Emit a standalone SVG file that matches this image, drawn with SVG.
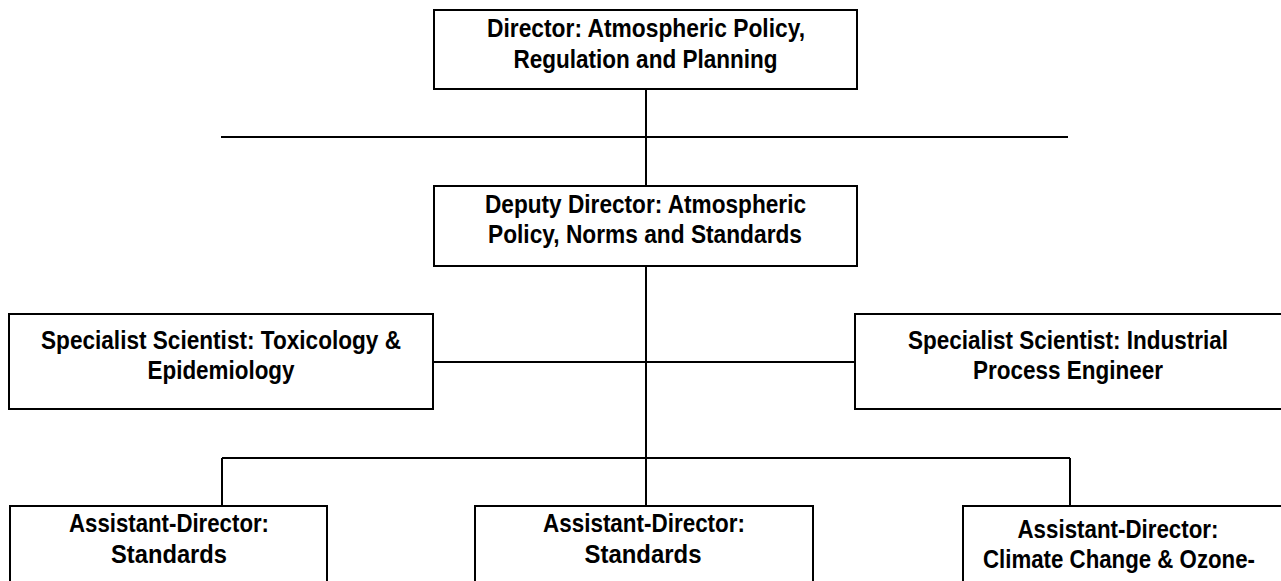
<svg xmlns="http://www.w3.org/2000/svg" width="1281" height="581" viewBox="0 0 1281 581">
<style>
.box{fill:#fff;stroke:#000;stroke-width:2}
.ln{stroke:#000;stroke-width:2;fill:none}
text{font-family:"Liberation Sans Narrow","Arial Narrow","Liberation Sans",Arial,sans-serif;font-weight:bold;font-size:26px;fill:#000;text-anchor:middle}
</style>
<rect width="1281" height="581" fill="#fff"/>
<g id="connectors">
<line class="ln" x1="646" y1="89" x2="646" y2="186"/>
<line class="ln" x1="221" y1="137" x2="1068" y2="137"/>
<line class="ln" x1="646" y1="266" x2="646" y2="506"/>
<line class="ln" x1="433" y1="362" x2="855" y2="362"/>
<line class="ln" x1="222" y1="458" x2="1070" y2="458"/>
<line class="ln" x1="222" y1="458" x2="222" y2="506"/>
<line class="ln" x1="1070" y1="458" x2="1070" y2="506"/>
</g>
<g id="director">
<rect class="box" x="434" y="10" width="423" height="79"/>
<text x="646" y="37" textLength="318" lengthAdjust="spacingAndGlyphs">Director: Atmospheric Policy,</text>
<text x="645.5" y="68" textLength="264" lengthAdjust="spacingAndGlyphs">Regulation and Planning</text>
</g>
<g id="deputy">
<rect class="box" x="434" y="186" width="423" height="80"/>
<text x="645.5" y="213" textLength="321" lengthAdjust="spacingAndGlyphs">Deputy Director: Atmospheric</text>
<text x="645" y="243" textLength="314" lengthAdjust="spacingAndGlyphs">Policy, Norms and Standards</text>
</g>
<g id="spec-tox">
<rect class="box" x="9" y="314" width="424" height="95"/>
<text x="221" y="349" textLength="360" lengthAdjust="spacingAndGlyphs">Specialist Scientist: Toxicology &amp;</text>
<text x="221" y="379" textLength="147" lengthAdjust="spacingAndGlyphs">Epidemiology</text>
</g>
<g id="spec-ind">
<rect class="box" x="855" y="314" width="440" height="95"/>
<text x="1068" y="349" textLength="320" lengthAdjust="spacingAndGlyphs">Specialist Scientist: Industrial</text>
<text x="1068" y="379" textLength="190" lengthAdjust="spacingAndGlyphs">Process Engineer</text>
</g>
<g id="ad-standards-1">
<rect class="box" x="10" y="506" width="317" height="100"/>
<text x="169" y="532" textLength="200" lengthAdjust="spacingAndGlyphs">Assistant-Director:</text>
<text x="169" y="563" textLength="116" lengthAdjust="spacingAndGlyphs">Standards</text>
</g>
<g id="ad-standards-2">
<rect class="box" x="475" y="506" width="338" height="100"/>
<text x="644" y="532" textLength="202" lengthAdjust="spacingAndGlyphs">Assistant-Director:</text>
<text x="643" y="563" textLength="117" lengthAdjust="spacingAndGlyphs">Standards</text>
</g>
<g id="ad-climate">
<rect class="box" x="963" y="506" width="340" height="100"/>
<text x="1118" y="538" textLength="201" lengthAdjust="spacingAndGlyphs">Assistant-Director:</text>
<text x="1119" y="568" textLength="272" lengthAdjust="spacingAndGlyphs">Climate Change &amp; Ozone-</text>
</g>
</svg>
